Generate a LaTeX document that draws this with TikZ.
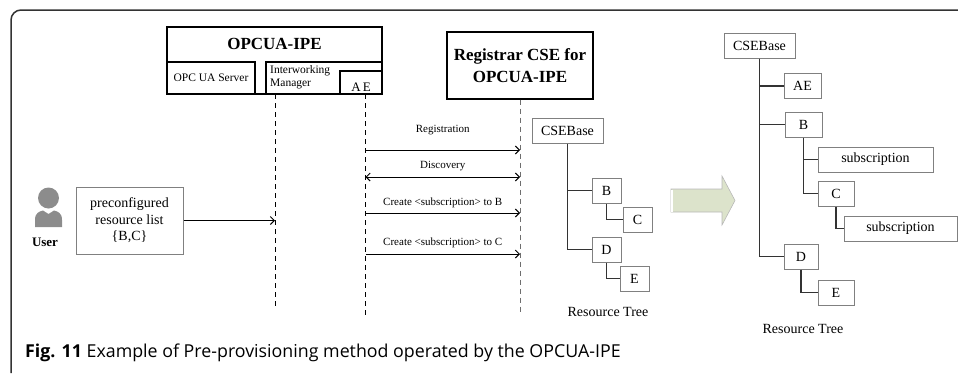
\documentclass[tikz,border=0pt]{standalone}
\usepackage{fontspec}
\setmainfont{Liberation Serif}
\newfontfamily\capfont{Open Sans}
\usetikzlibrary{shapes,arrows.meta}
\definecolor{framegray}{HTML}{333333}
\definecolor{boxgray}{HTML}{808080}
\definecolor{lifegray}{HTML}{6E6E6E}
\definecolor{usergray}{HTML}{8C8C8C}
\definecolor{arrowgreen}{HTML}{DCE3CB}
\definecolor{arrowedge}{HTML}{B8B8B8}
\tikzset{
	treebox/.style = {draw = boxgray, shape = rectangle, line width = 1pt,
					  minimum height = 25pt, inner sep = 0pt,
					  font = \fontsize{14}{16}\selectfont},
	treeline/.style = {draw = framegray, line width = 1.2pt},
	entitybox/.style = {draw = black, shape = rectangle, line width = 1.2pt, inner sep = 0pt},
	lifeline/.style = {line width = 1pt, dash pattern = on 5pt off 4pt},
	msg/.style = {line width = 1pt, ->},
	msglabel/.style = {font = \fontsize{11}{13}\selectfont, inner sep = 0pt}
}

\begin{document}
\begin{tikzpicture}[x = 1pt, y = -1pt, >={Straight Barb[length = 4pt, width = 8pt]}]
	\useasboundingbox (0,0) rectangle (958,373);

	% frame of the figure
	\draw[framegray, line width = 1.5pt, rounded corners = 10pt] (11,373) -- (11,10) -- (958,10);

	% OPCUA-IPE
	\draw (274.5,60.5) node[entitybox,
					 minimum width = 215pt,
					 minimum height = 67pt](ipe) {};
	\draw (274.5,44) node[font = \fontsize{17}{19}\selectfont\bfseries](ipetitle) {OPCUA-IPE};
	\draw (211,78) node[entitybox,
					 minimum width = 88pt,
					 minimum height = 32pt,
					 font = \fontsize{11.5}{13}\selectfont](server) {OPC UA Server};
	\draw (324,78) node[entitybox,
					 minimum width = 116pt,
					 minimum height = 32pt](manager) {};
	\draw (270,77.5) node[anchor = west, inner sep = 0pt, align = left,
					 font = \fontsize{11.5}{13}\selectfont](managertext) {Interworking\\Manager};
	\draw (361,82.5) node[entitybox,
					 minimum width = 42pt,
					 minimum height = 23pt](ae) {};
	\draw (361,87) node[font = \fontsize{13}{15}\selectfont, inner sep = 0pt](aetext) {A\,E};

	% Registrar CSE
	\draw (520,65.5) node[entitybox,
					 minimum width = 146pt,
					 minimum height = 67pt,
					 align = center,
					 font = \fontsize{17}{22}\selectfont\bfseries](reg) {Registrar CSE for\\OPCUA-IPE};

	% life lines
	\coordinate (imTop) at (275,94);
	\coordinate (imEnd) at (275,308);
	\coordinate (aeTop) at (365.5,94);
	\coordinate (aeEnd) at (365.5,318);
	\coordinate (regEnd) at (520,313);
	\draw[lifeline] (imTop) -- (imEnd);
	\draw[lifeline] (aeTop) -- (aeEnd);
	\draw[lifeline, lifegray] (reg.south) -- (regEnd);

	% user and resource list
	\fill[usergray] (48.5,198) circle (10.5pt);
	\fill[usergray] (35,227) -- (35,220) .. controls (35,213) and (39,211.5) .. (43,210.5)
		-- (48.5,214) -- (54,210.5) .. controls (58,211.5) and (62,213) .. (62,220) -- (62,227) -- cycle;
	\draw (45,242) node[font = \fontsize{13}{15}\selectfont\bfseries](user) {User};
	\draw (129.5,220.5) node[draw = boxgray,
					 shape = rectangle,
					 line width = 1pt,
					 minimum width = 107pt,
					 minimum height = 67pt,
					 inner sep = 0pt,
					 align = center,
					 font = \fontsize{14}{16.5}\selectfont](list) {preconfigured\\resource list\\\{B,C\}};
	\draw[msg] (list.east) -- (list.east -| imTop);

	% messages
	\coordinate (m1) at (0,150);
	\coordinate (m2) at (0,177);
	\coordinate (m3) at (0,213);
	\coordinate (m4) at (0,254);
	\draw[msg] (aeTop |- m1) -- (regEnd |- m1) node[msglabel, midway, yshift = 20pt] {Registration};
	\draw[msg, <->] (aeTop |- m2) -- (regEnd |- m2) node[msglabel, midway, yshift = 11pt] {Discovery};
	\draw[msg] (aeTop |- m3) -- (regEnd |- m3) node[msglabel, midway, yshift = 10.5pt] {Create <subscription> to B};
	\draw[msg] (aeTop |- m4) -- (regEnd |- m4) node[msglabel, midway, yshift = 11pt] {Create <subscription> to C};

	% resource tree before
	\draw (567.5,130.5) node[treebox, minimum width = 71pt](base1) {CSEBase};
	\draw (606.5,190.5) node[treebox, minimum width = 29pt](b1) {B};
	\draw (637.5,219.5) node[treebox, minimum width = 29pt](c1) {C};
	\draw (606.5,249.5) node[treebox, minimum width = 29pt](d1) {D};
	\draw (634.5,278.5) node[treebox, minimum width = 29pt](e1) {E};
	\draw[treeline] (base1.south) |- (b1.west);
	\draw[treeline] (base1.south) |- (d1.west);
	\draw[treeline] (b1.south) |- (c1.west);
	\draw[treeline] (d1.south) |- (e1.west);
	\draw (608,312) node[font = \fontsize{14}{16}\selectfont](tree1) {Resource Tree};

	% big arrow
	\fill[arrowgreen, draw = arrowedge, line width = 0.6pt]
		(671,189) -- (722,189) -- (722,176) -- (735,200.5) -- (722,225) -- (722,212) -- (671,212) -- cycle;
	\draw[white, line width = 1.5pt] (672,189.5) -- (672,211.5);

	% resource tree after
	\draw (759.5,45.5) node[treebox, minimum width = 71pt](base2) {CSEBase};
	\draw (802.5,86) node[treebox, minimum width = 37pt](ae2) {AE};
	\draw (803.5,124.5) node[treebox, minimum width = 37pt](b2) {B};
	\draw (875.5,159.5) node[treebox, minimum width = 115pt](sub1) {subscription};
	\draw (836,193.5) node[treebox, minimum width = 36pt](c2) {C};
	\draw (900.5,228.5) node[treebox, minimum width = 113pt](sub2) {subscription};
	\draw (801,256.5) node[treebox, minimum width = 34pt](d2) {D};
	\draw (836,292.5) node[treebox, minimum width = 36pt](e2) {E};
	\draw[treeline] (base2.south) |- (ae2.west);
	\draw[treeline] (base2.south) |- (b2.west);
	\draw[treeline] (base2.south) |- (d2.west);
	\draw[treeline] (b2.south) |- (sub1.west);
	\draw[treeline] (b2.south) |- (c2.west);
	\draw[treeline] (c2.south) |- (sub2.west);
	\draw[treeline] (d2.south) |- (e2.west);
	\draw (803,329) node[font = \fontsize{14}{16}\selectfont](tree2) {Resource Tree};

	% caption
	\draw (25,357) node[anchor = base west, inner sep = 0pt,
					 font = \capfont\fontsize{17.8}{20}\selectfont](caption)
		{\textbf{Fig. 11} Example of Pre-provisioning method operated by the OPCUA-IPE};
\end{tikzpicture}
\end{document}
